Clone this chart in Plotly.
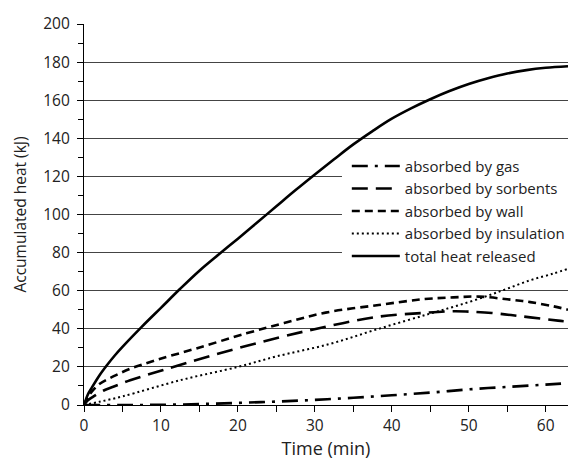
import plotly.graph_objects as go

# ---- data ----
t_total = [0, 0.5, 1, 2, 3, 4, 5, 7.5, 10, 12.5, 15, 17.5, 20, 22.5, 25, 27.5, 30, 32.5, 35,
           37.5, 40, 42.5, 45, 47.5, 50, 52.5, 55, 57.5, 60, 62.9]
total = [0, 5.5, 9, 15.5, 21, 26, 30.5, 41, 51, 61, 70.5, 79, 87.3, 95.8, 104.3, 112.8, 121,
         129, 136.8, 143.8, 150.3, 155.7, 160.5, 164.8, 168.5, 171.5, 174, 175.8, 177, 177.8]

t_wall = [0, 0.4, 0.8, 2, 3.8, 6, 9.4, 14.6, 21.1, 26, 31.4, 38.3, 44, 48, 51.3, 55, 58, 61, 62.9]
wall = [0, 3.5, 6, 11, 15, 19, 23.6, 29.7, 37.6, 43, 48.5, 52.5, 55.5, 56.5, 56.9, 55.5, 54, 51.8, 50]

t_sorb = [0, 0.5, 1.2, 2.5, 3.8, 6, 10.3, 16.8, 25.4, 31.9, 38.3, 44, 48, 50, 53, 55.5, 58, 61.6, 62.9]
sorb = [0, 2.5, 4.4, 7.5, 9.6, 13, 18.4, 26.2, 35.5, 41.5, 46.4, 48.3, 49.2, 49, 48.3, 47.2, 46, 44.3, 43.8]

t_ins = [0, 2, 5, 12.5, 20, 25, 31.9, 38.3, 45, 50, 54.3, 58, 61, 62.9]
ins = [0, 1.7, 4.5, 13, 20, 25.5, 32, 40, 48, 54, 60, 65.5, 69, 71.5]

t_gas = [0, 5, 10, 15, 20, 25, 30, 35, 40, 45, 50, 55, 60, 62.9]
gas = [0, 0, 0.1, 0.5, 1.1, 1.8, 2.7, 3.8, 5.1, 6.5, 8.2, 9.5, 10.7, 11.5]

names = ["absorbed by gas", "absorbed by sorbents", "absorbed by wall",
         "absorbed by insulation", "total heat released"]

x_ticks = [0, 10, 20, 30, 40, 50, 60]
y_ticks = [0, 20, 40, 60, 80, 100, 120, 140, 160, 180, 200]

FONT = "Open Sans"

fig = go.Figure()
fig.add_trace(go.Scatter(x=t_gas, y=gas, name=names[0], mode="lines", line_shape="spline",
                         line=dict(color="black", width=2.6, dash="16px,7px,3px,7px")))
fig.add_trace(go.Scatter(x=t_sorb, y=sorb, name=names[1], mode="lines", line_shape="spline",
                         line=dict(color="black", width=2.6, dash="16px,8px")))
fig.add_trace(go.Scatter(x=t_wall, y=wall, name=names[2], mode="lines", line_shape="spline",
                         line=dict(color="black", width=2.6, dash="8px,5px")))
fig.add_trace(go.Scatter(x=t_ins, y=ins, name=names[3], mode="lines", line_shape="spline",
                         line=dict(color="black", width=2, dash="2px,3px")))
fig.add_trace(go.Scatter(x=t_total, y=total, name=names[4], mode="lines", line_shape="spline",
                         line=dict(color="black", width=2.6)))

# white panel behind the legend (hides gridlines there; no curve passes through it)
fig.add_shape(type="rect", xref="paper", yref="paper",
              x0=0.533, x1=1.0, y0=0.376, y1=0.643,
              fillcolor="white", line=dict(width=0), layer="above")

fig.update_layout(
    width=580, height=463,
    margin=dict(l=84, r=10, t=24, b=58),
    paper_bgcolor="white", plot_bgcolor="white",
    font=dict(family=FONT, size=15.5, color="#222"),
    showlegend=True,
    legend=dict(x=0.543, y=0.67, xanchor="left", yanchor="top",
                bgcolor="rgba(0,0,0,0)", borderwidth=0,
                font=dict(family=FONT, size=15, color="#222"),
                itemwidth=48, tracegroupgap=0,
                traceorder="normal"),
    xaxis=dict(range=[0, 62.9], tickvals=x_ticks, showgrid=False, zeroline=False,
               showline=True, linecolor="black", linewidth=1.2,
               ticks="outside", ticklen=6, tickcolor="black",
               minor=dict(dtick=5, ticks="outside", ticklen=6, tickcolor="black"),
               title=dict(text="Time (min)", font=dict(size=18), standoff=6),
               tickfont=dict(size=15.5)),
    yaxis=dict(range=[0, 200], tickvals=y_ticks, showgrid=True, gridcolor="#444", gridwidth=1,
               zeroline=False, showline=True, linecolor="black", linewidth=1.2,
               ticks="outside", ticklen=6, tickcolor="black", ticklabelstandoff=4,
               minor=dict(dtick=10, ticks="outside", ticklen=5, tickcolor="black"),
               title=dict(text="Accumulated heat (kJ)", font=dict(size=15.5), standoff=12),
               tickfont=dict(size=15.5)),
)

fig.write_html("out.html")
